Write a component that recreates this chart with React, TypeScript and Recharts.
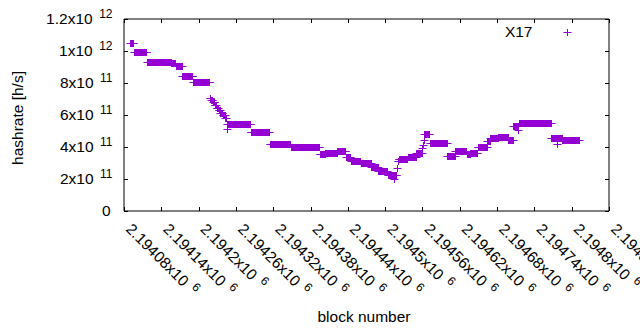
import React from "react";
import { Legend, Scatter, ScatterChart, XAxis, YAxis } from "recharts";

// stepwise hashrate: each run is a range of blocks with the same value (x10^11 h/s)
const runStart = [
  2194090, 2194096, 2194117, 2194156, 2194163, 2194174, 2194191, 2194218, 2194220, 2194223,
  2194226, 2194229, 2194232, 2194235, 2194239, 2194243, 2194245, 2194246, 2194284, 2194314,
  2194348, 2194395, 2194404, 2194423, 2194437, 2194445, 2194461, 2194478, 2194489, 2194504,
  2194514, 2194515, 2194519, 2194520, 2194522, 2194536, 2194550, 2194560, 2194561, 2194562,
  2194563, 2194572, 2194600, 2194613, 2194631, 2194637, 2194649, 2194664, 2194669, 2194682,
  2194698, 2194706, 2194714, 2194715, 2194767, 2194776, 2194777, 2194785,
];
const runEnd = [
  2194095, 2194116, 2194155, 2194162, 2194173, 2194190, 2194217, 2194219, 2194222, 2194225,
  2194228, 2194231, 2194234, 2194238, 2194242, 2194244, 2194245, 2194283, 2194313, 2194347,
  2194394, 2194403, 2194422, 2194436, 2194444, 2194460, 2194477, 2194488, 2194503, 2194513,
  2194514, 2194518, 2194519, 2194521, 2194535, 2194549, 2194559, 2194560, 2194561, 2194562,
  2194571, 2194599, 2194612, 2194630, 2194636, 2194648, 2194663, 2194668, 2194681, 2194697,
  2194705, 2194713, 2194714, 2194766, 2194775, 2194776, 2194784, 2194811,
];
const runValue = [
  10.48, 9.92, 9.29, 9.22, 9.06, 8.46, 8.04, 7.09, 6.94, 6.8,
  6.6, 6.44, 6.3, 6.15, 6.02, 5.82, 5.15, 5.42, 4.92, 4.17,
  3.98, 3.56, 3.6, 3.77, 3.38, 3.1, 3.0, 2.72, 2.47, 2.26,
  1.97, 2.26, 2.69, 3.1, 3.23, 3.35, 3.63, 3.94, 4.1, 4.44,
  4.8, 4.28, 3.44, 3.77, 3.58, 3.64, 3.98, 4.37, 4.54, 4.6,
  4.44, 5.31, 5.06, 5.48, 4.54, 4.17, 4.54, 4.44,
];

const xTicks = [
  2194080, 2194140, 2194200, 2194260, 2194320, 2194380, 2194440,
  2194500, 2194560, 2194620, 2194680, 2194740, 2194800, 2194860,
];
const xTickLabels = [
  "2.19408", "2.19414", "2.1942", "2.19426", "2.19432", "2.19438", "2.19444",
  "2.1945", "2.19456", "2.19462", "2.19468", "2.19474", "2.1948", "2.19486",
];
const yTicks = [0, 2e11, 4e11, 6e11, 8e11, 1e12, 1.2e12];
const yTickMantissa = ["0", "2", "4", "6", "8", "1", "1.2"];
const yTickExponent = ["", "11", "11", "11", "11", "12", "12"];

const PURPLE = "#9400d3";
const FONT = "'Liberation Sans', Arial, sans-serif";
const FS = 15.5;
const SUP = 12;

const points = runStart.flatMap((start, i) => {
  const out: { block: number; hashrate: number }[] = [];
  for (let b = start; b <= runEnd[i]; b++) out.push({ block: b, hashrate: runValue[i] * 1e11 });
  return out;
});

function Plus(props: any) {
  const { cx, cy } = props;
  if (cx == null || cy == null) return null;
  const X = Math.round(cx);
  const Y = Math.round(cy);
  return (
    <path
      d={`M${X - 3.5},${Y + 0.5}H${X + 4.5}M${X + 0.5},${Y - 3}V${Y + 4}`}
      stroke={PURPLE}
      strokeWidth={1}
      fill="none"
    />
  );
}

function BottomTick(props: any) {
  const { x, y, index } = props;
  const X = Math.round(x) + 0.5;
  const tx = x + 1;
  const ty = y + 19;
  return (
    <g>
      <line x1={X} y1={y} x2={X} y2={y - 4} stroke="#000" />
      <text
        x={tx}
        y={ty}
        transform={`rotate(45 ${tx} ${ty})`}
        textAnchor="start"
        fontSize={FS}
        fontFamily={FONT}
        fill="#000"
      >
        {xTickLabels[index]}x10
        <tspan dx={6.5} dy={-6} fontSize={SUP}>6</tspan>
      </text>
    </g>
  );
}

function TopTick(props: any) {
  const { x, y } = props;
  const X = Math.round(x) + 0.5;
  return <line x1={X} y1={y} x2={X} y2={y + 4} stroke="#000" />;
}

function LeftTick(props: any) {
  const { x, y, index } = props;
  const Y = Math.round(y) + 0.5;
  const exp = yTickExponent[index];
  return (
    <g>
      <line x1={x} y1={Y} x2={x + 4} y2={Y} stroke="#000" />
      <text x={exp ? 112.5 : 110.5} y={y + 5} textAnchor="end" fontSize={FS} fontFamily={FONT} fill="#000">
        {yTickMantissa[index]}
        {exp ? "x10" : ""}
        {exp ? (
          <tspan dx={6.5} dy={-6.4} fontSize={SUP}>
            {exp}
          </tspan>
        ) : null}
      </text>
    </g>
  );
}

function RightTick(props: any) {
  const { x, y } = props;
  const Y = Math.round(y) + 0.5;
  return <line x1={x} y1={Y} x2={x - 4} y2={Y} stroke="#000" />;
}

function LegendBox() {
  return (
    <svg width={100} height={24}>
      <text x={52.5} y={16.7} textAnchor="end" fontSize={FS} fontFamily={FONT} fill="#000">
        X17
      </text>
      <path d="M83.5,12.5H91.5M87.5,9V16" stroke={PURPLE} strokeWidth={1} fill="none" />
    </svg>
  );
}

export default function App() {
  return (
    <div style={{ position: "absolute", left: 0, top: 0, width: 640, height: 330, background: "#fff" }}>
      <ScatterChart width={640} height={330} margin={{ top: 0, right: 0, bottom: 0, left: 0 }}>
        <XAxis
          xAxisId={0}
          type="number"
          dataKey="block"
          domain={[2194080, 2194860]}
          ticks={xTicks}
          interval={0}
          allowDataOverflow
          height={119}
          tickSize={0}
          tickMargin={0}
          tick={<BottomTick />}
          axisLine={{ stroke: "#000" }}
          label={(p: any) => (
            <text
              x={p.viewBox.x + p.viewBox.width / 2 - 2.5}
              y={p.viewBox.y + 110.5}
              textAnchor="middle"
              fontSize={FS}
              fontFamily={FONT}
              fill="#000"
            >
              block number
            </text>
          )}
        />
        <XAxis
          xAxisId="top"
          orientation="top"
          type="number"
          dataKey="block"
          domain={[2194080, 2194860]}
          ticks={xTicks}
          interval={0}
          allowDataOverflow
          height={19}
          tickSize={0}
          tickMargin={0}
          tick={<TopTick />}
          axisLine={{ stroke: "#000" }}
        />
        <YAxis
          yAxisId={0}
          type="number"
          dataKey="hashrate"
          domain={[0, 1.2e12]}
          ticks={yTicks}
          interval={0}
          allowDataOverflow
          width={124}
          tickSize={0}
          tickMargin={0}
          tick={<LeftTick />}
          axisLine={{ stroke: "#000" }}
          label={(p: any) => {
            const cx = 22.5;
            const cy = p.viewBox.y + p.viewBox.height / 2 + 3;
            return (
              <text
                x={cx}
                y={cy}
                transform={`rotate(-90 ${cx} ${cy})`}
                textAnchor="middle"
                fontSize={FS}
                fontFamily={FONT}
                fill="#000"
              >
                hashrate [h/s]
              </text>
            );
          }}
        />
        <YAxis
          yAxisId="right"
          orientation="right"
          type="number"
          dataKey="hashrate"
          domain={[0, 1.2e12]}
          ticks={yTicks}
          interval={0}
          allowDataOverflow
          width={31}
          tickSize={0}
          tickMargin={0}
          tick={<RightTick />}
          axisLine={{ stroke: "#000" }}
        />
        <Legend
          layout="vertical"
          align="center"
          verticalAlign="middle"
          wrapperStyle={{ position: "absolute", left: 480, top: 20, width: 100, height: 24 }}
          content={() => <LegendBox />}
        />
        <Scatter
          name="X17"
          data={points}
          xAxisId={0}
          yAxisId={0}
          shape={<Plus />}
          isAnimationActive={false}
        />
      </ScatterChart>
    </div>
  );
}
